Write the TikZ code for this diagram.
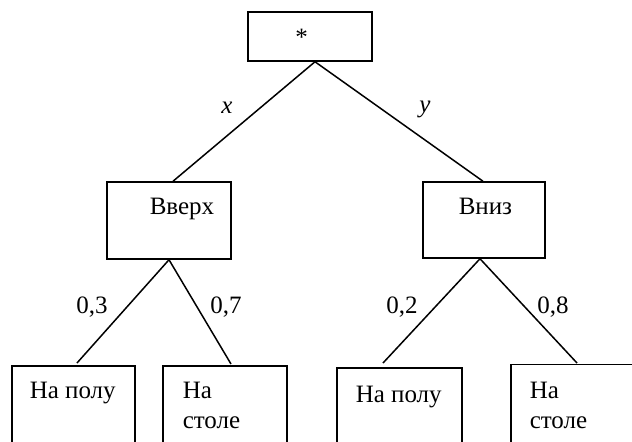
\documentclass[tikz,border=0pt]{standalone}
\usepackage{fontspec}
\setmainfont{Liberation Serif}
\begin{document}
\begin{tikzpicture}[x=0.5pt,y=-0.5pt,line width=0.75pt,
  box/.style={draw,rectangle,inner sep=0pt},
  openbox/.style={rectangle,inner sep=0pt},
  txt/.style={inner sep=0pt,font=\fontsize{12.5}{15}\selectfont},
  edge/.style={draw}]
\useasboundingbox (0,0) rectangle (632,441);
\begin{scope}
\clip (0,0) rectangle (632,441);
% boxes
\node[box,minimum width=62pt,minimum height=24.5pt] (top) at (310,36.5) {};
\node[box,minimum width=62pt,minimum height=38.5pt] (up) at (169,220.5) {};
\node[box,minimum width=61pt,minimum height=38pt] (down) at (484,220) {};
\node[box,minimum width=61.5pt,minimum height=52pt] (b1) at (73.5,418) {};
\node[box,minimum width=62pt,minimum height=52pt] (b2) at (225,418) {};
\node[box,minimum width=62.5pt,minimum height=52pt] (b3) at (399.5,420) {};
\node[openbox,minimum width=100pt,minimum height=52pt] (b4) at (611.5,417) {};
\draw (b4.south west) -- (b4.north west) -- (b4.north east);
\end{scope}
% texts
\node[txt,anchor=base] (tstar) at (301.5,45) {*};
\node[txt,anchor=base west] (tup) at (149,214) {Вверх};
\node[txt,anchor=base west] (tdown) at (458,214) {Вниз};
\node[txt,anchor=base west] (t1) at (29,398) {На полу};
\node[txt,anchor=base west] (t2) at (182,398) {На};
\node[txt,anchor=base west] (t2b) at (182,428) {столе};
\node[txt,anchor=base west] (t3) at (355,402) {На полу};
\node[txt,anchor=base west] (t4) at (529,398) {На};
\node[txt,anchor=base west] (t4b) at (529,428) {столе};
% edge labels
\node[txt,anchor=base] (lx) at (227,113) {\itshape x};
\node[txt,anchor=base] (ly) at (425,112) {\itshape y};
\node[txt,anchor=base] (l03) at (92,313) {0,3};
\node[txt,anchor=base] (l07) at (226,313) {0,7};
\node[txt,anchor=base] (l02) at (402,313) {0,2};
\node[txt,anchor=base] (l08) at (553,313) {0,8};
% connector end points
\coordinate (e1) at (77,363);
\coordinate (e2) at (231,364);
\coordinate (e3) at (383,363);
\coordinate (e4) at (577,363);
% connectors
\draw[edge] ([xshift=2.5pt]top.south) -- ([xshift=2pt]up.north);
\draw[edge] ([xshift=2.5pt]top.south) -- ([xshift=-0.5pt]down.north);
\draw[edge] (up.south) -- (e1);
\draw[edge] (up.south) -- (e2);
\draw[edge] ([xshift=-2pt]down.south) -- (e3);
\draw[edge] ([xshift=-2pt]down.south) -- (e4);
\end{tikzpicture}
\end{document}
